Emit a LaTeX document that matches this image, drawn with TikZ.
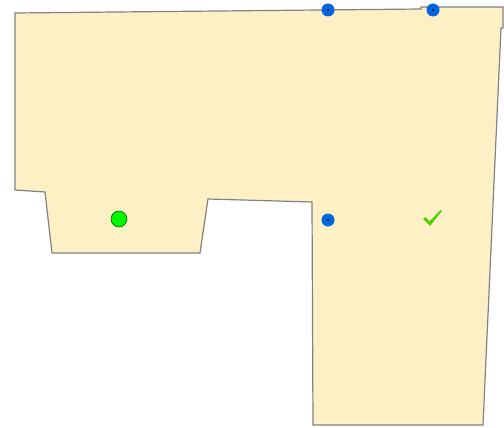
\documentclass[tikz,border=0pt]{standalone}
\usetikzlibrary{positioning}

\definecolor{parcel}{RGB}{252,240,196}
\definecolor{edgegray}{RGB}{130,130,130}
\definecolor{pinblue}{RGB}{0,102,224}
\definecolor{pingreen}{RGB}{0,245,0}
\definecolor{tickgreen}{RGB}{80,210,0}

\begin{document}
\begin{tikzpicture}[
  x=1pt, y=-1pt,
  vertex/.style={circle, fill=pinblue, inner sep=0pt, minimum size=13pt,
    path picture={\fill[black] (path picture bounding box.center) circle (1pt);}},
  seed/.style={circle, draw=black!60!green, fill=pingreen, line width=0.6pt, inner sep=0pt, minimum size=16pt},
  tick/.style={fill=tickgreen, line join=round}
]
\useasboundingbox (0,0) rectangle (504,428);

% outline of the lot
\draw[edgegray, fill=parcel, line width=1.2pt]
  (15,13) -- (421,9) -- (421,7) -- (503,7) -- (503,28) -- (501,28)
  -- (483,425) -- (313,425) -- (312,202) -- (208,199) -- (200,253)
  -- (52,253) -- (45,192) -- (15,190) -- cycle;

\node[vertex] (tl) at (328,10) {};
\node[vertex] (tr) at (433,10) {};
\node[vertex] (mid) at (328,220) {};
\node[seed] (start) at (119,219) {};

% check mark
\coordinate (done) at (432,218);
\fill[tick, shift={(done)}]
  (-9,1) -- (-6.5,-1) -- (-2.5,3.5) -- (8.5,-8) -- (10,-7) -- (-2,8) -- cycle;

\end{tikzpicture}
\end{document}
